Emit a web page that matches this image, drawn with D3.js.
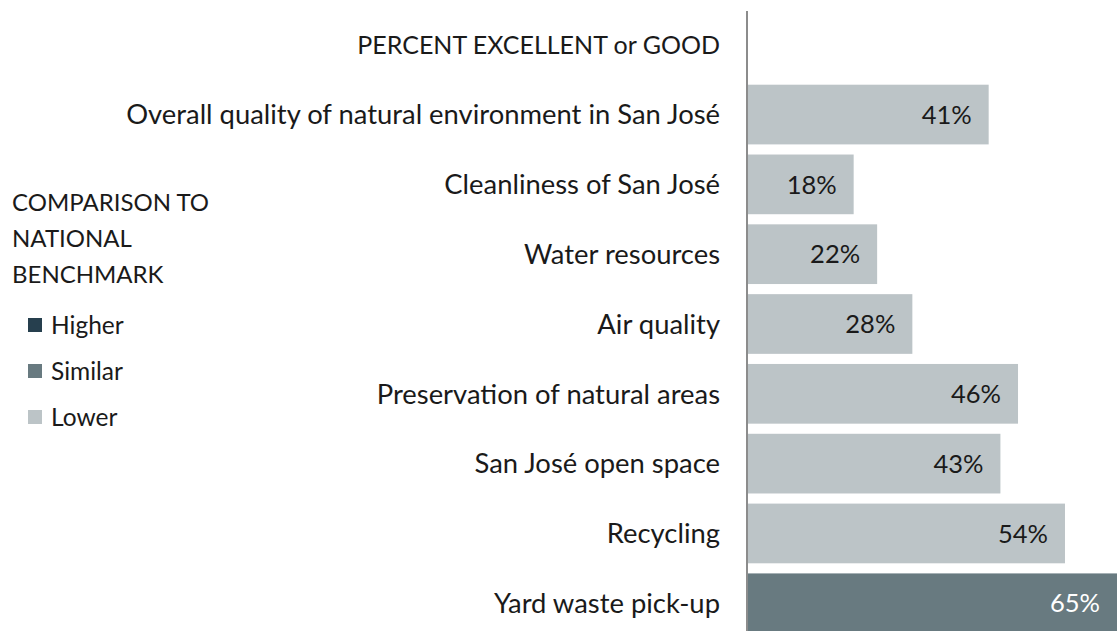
<!DOCTYPE html>
<html>
<head>
<meta charset="utf-8">
<script src="https://cdn.jsdelivr.net/npm/d3@7"></script>
<style>
  body { margin: 0; background: #fff; overflow: hidden; }
  svg { display: block; font-family: Lato, "Open Sans", sans-serif; }
</style>
</head>
<body>
<svg id="chart" width="1117" height="631"></svg>
<script>
var categories = [
  'PERCENT EXCELLENT or GOOD',
  'Overall quality of natural environment in San José',
  'Cleanliness of San José',
  'Water resources',
  'Air quality',
  'Preservation of natural areas',
  'San José open space',
  'Recycling',
  'Yard waste pick-up'
];
var values = [null, 41, 18, 22, 28, 46, 43, 54, 65];
var comparison = [null, 'Lower', 'Lower', 'Lower', 'Lower', 'Lower', 'Lower', 'Lower', 'Similar'];
var legendLabels = ['Higher', 'Similar', 'Lower'];
var legendTitle = ['COMPARISON TO', 'NATIONAL', 'BENCHMARK'];

var colors = d3.scaleOrdinal()
  .domain(legendLabels)
  .range(['#263f4e', '#687a80', '#bcc4c7']);

var svg = d3.select('#chart');

var x = d3.scaleLinear()
  .domain([0, 100])
  .range([748, 748 + 587]);

var y = d3.scaleBand()
  .domain(categories)
  .range([10, 638])
  .paddingInner(0.145)
  .paddingOuter(0.07);

var rows = categories.map(function (c, i) {
  return { name: c, value: values[i], comp: comparison[i] };
});

// bars
svg.append('g').selectAll('rect')
  .data(rows.filter(function (d) { return d.value !== null; }))
  .enter().append('rect')
  .attr('x', x(0))
  .attr('y', function (d) { return y(d.name); })
  .attr('width', function (d) { return x(d.value) - x(0); })
  .attr('height', y.bandwidth())
  .attr('fill', function (d) { return colors(d.comp); });

// value labels
svg.append('g').selectAll('text')
  .data(rows.filter(function (d) { return d.value !== null; }))
  .enter().append('text')
  .attr('x', function (d) { return Math.min(x(d.value), 1117) - 17; })
  .attr('y', function (d) { return y(d.name) + y.bandwidth() / 2; })
  .attr('dy', '0.36em')
  .attr('text-anchor', 'end')
  .attr('font-size', 25.5)
  .attr('fill', function (d) { return d.comp === 'Lower' ? '#1a1a1a' : '#fff'; })
  .text(function (d) { return d.value + '%'; });

// category labels (header row is set a bit smaller, caps run wide)
svg.append('g').selectAll('text')
  .data(rows)
  .enter().append('text')
  .attr('x', 720)
  .attr('y', function (d) { return y(d.name) + y.bandwidth() / 2; })
  .attr('dy', '0.36em')
  .attr('text-anchor', 'end')
  .attr('font-size', function (d) { return d.value === null ? 25 : 27.4; })
  .attr('fill', '#1a1a1a')
  .text(function (d) { return d.name; });

// axis line
svg.append('line')
  .attr('x1', 747).attr('x2', 747)
  .attr('y1', 11).attr('y2', 631)
  .attr('stroke', '#8c8c8c')
  .attr('stroke-width', 2);

// legend
var legend = svg.append('g');
legend.selectAll('text.title')
  .data(legendTitle)
  .enter().append('text')
  .attr('class', 'title')
  .attr('x', 12)
  .attr('y', function (d, i) { return 211 + i * 36; })
  .attr('font-size', 24)
  .attr('fill', '#1a1a1a')
  .text(function (d) { return d; });

var items = legend.selectAll('g.item')
  .data(legendLabels)
  .enter().append('g')
  .attr('class', 'item')
  .attr('transform', function (d, i) { return 'translate(28,' + (325 + i * 46) + ')'; });

items.append('rect')
  .attr('x', 0).attr('y', -7)
  .attr('width', 14).attr('height', 14)
  .attr('fill', function (d) { return colors(d); });

items.append('text')
  .attr('x', 23)
  .attr('dy', '0.36em')
  .attr('font-size', 24.5)
  .attr('fill', '#1a1a1a')
  .text(function (d) { return d; });
</script>
</body>
</html>
